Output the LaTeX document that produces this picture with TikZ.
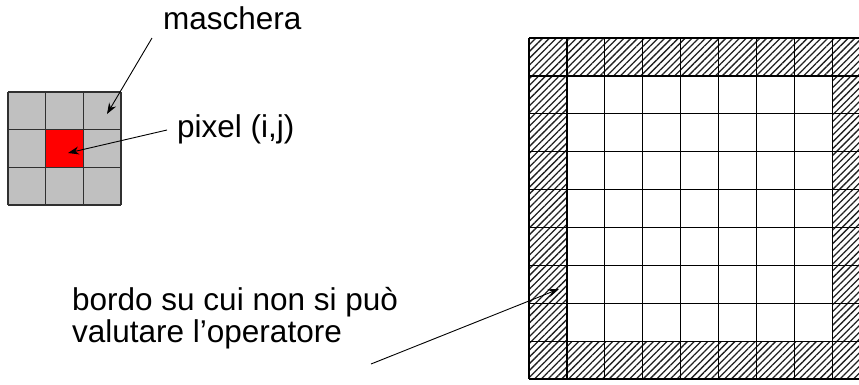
\documentclass[tikz,border=0pt]{standalone}
\usepackage{fontspec}
\setmainfont{Liberation Sans}
\usetikzlibrary{patterns.meta,arrows.meta}

\definecolor{maskgray}{HTML}{C0C0C0}
\definecolor{maskline}{HTML}{303030}
\definecolor{centrered}{HTML}{FF0000}
\definecolor{hatchink}{HTML}{202020}

\begin{document}
\begin{tikzpicture}[x=1pt,y=-1pt,
  labeltext/.style={font=\fontsize{31.5}{31.6}\selectfont, inner sep=0pt, align=left},
  pointer/.style={draw=black, line width=0.9pt, -{Stealth[length=11pt,width=8pt]}},
  masklines/.style={draw=maskline, line width=1.4pt},
  imagelines/.style={draw=black, line width=1.3pt},
  hatched/.style={pattern={Lines[angle=45,distance=4.8pt,line width=1.3pt]}, pattern color=hatchink}
]
\useasboundingbox (0,0) rectangle (859,384);
\clip (0,0) rectangle (859,384);

% --- 3x3 mask with the central pixel ---
\def\mx{8}\def\my{92}\def\mc{37.7}
\fill[maskgray] (\mx,\my) rectangle ++(3*\mc,3*\mc);
\node[fill=centrered, minimum size=\mc pt, inner sep=0pt, anchor=north west] (centre) at (\mx+\mc,\my+\mc) {};
\foreach \k in {0,...,3}{
  \draw[masklines] (\mx+\k*\mc,\my) -- (\mx+\k*\mc,\my+3*\mc);
  \draw[masklines] (\mx,\my+\k*\mc) -- (\mx+3*\mc,\my+\k*\mc);
}
\coordinate (masktip) at (107,114);
\coordinate (centretip) at (68,153);

% --- image grid: hatched border, blank interior ---
\def\gx{529}\def\gy{38}\def\gc{37.9}
\fill[hatched] (\gx,\gy) rectangle ++(9*\gc,9*\gc);
\fill[white] (\gx+\gc,\gy+\gc) rectangle ++(7*\gc,7*\gc);
\foreach \k in {0,...,9}{
  \draw[imagelines] (\gx+\k*\gc,\gy) -- (\gx+\k*\gc,\gy+9*\gc);
  \draw[imagelines] (\gx,\gy+\k*\gc) -- (\gx+9*\gc,\gy+\k*\gc);
}
\coordinate (bordertip) at (559,289);

% --- labels and pointers ---
\node[labeltext, anchor=base west] (maschera) at (163,29) {maschera};
\node[labeltext, anchor=base west] (pixel) at (177,137) {pixel (i,j)};
\node[labeltext, anchor=base west] (bordo) at (72,342) {bordo su cui non si può\\valutare l’operatore};
\coordinate (maskstart) at (152,38);
\coordinate (pixelstart) at (167,130);
\coordinate (bordostart) at (371,364);

\draw[pointer] (maskstart) -- (masktip);
\draw[pointer] (pixelstart) -- (centretip);
\draw[pointer] (bordostart) -- (bordertip);
\end{tikzpicture}
\end{document}
